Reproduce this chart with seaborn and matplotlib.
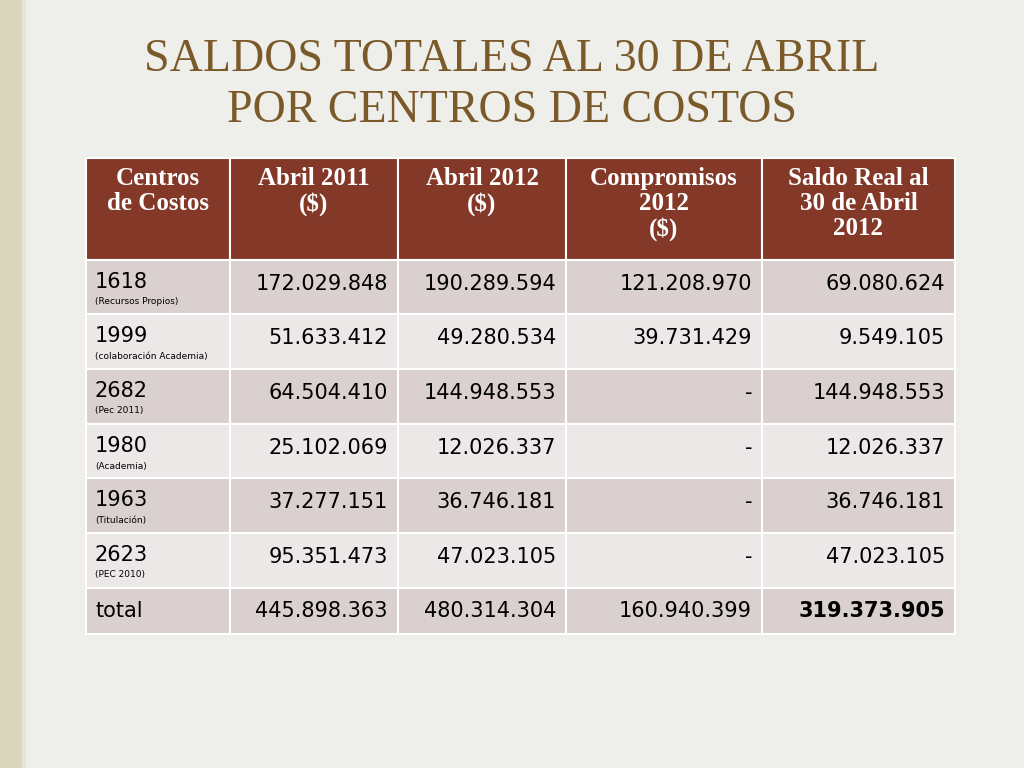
import matplotlib
matplotlib.use("Agg")
import matplotlib.pyplot as plt
from matplotlib.patches import Rectangle
import seaborn as sns

sns.set_theme(style="white")

# --- data ---
headers = ["Centros\nde Costos", "Abril 2011\n($)", "Abril 2012\n($)",
           "Compromisos\n2012\n($)", "Saldo Real al\n30 de Abril\n2012"]
codes = ["1618", "1999", "2682", "1980", "1963", "2623", "total"]
descriptions = ["(Recursos Propios)", "(colaboración Academia)", "(Pec 2011)",
                "(Academia)", "(Titulación)", "(PEC 2010)", ""]
abril_2011 = ["172.029.848", "51.633.412", "64.504.410", "25.102.069",
              "37.277.151", "95.351.473", "445.898.363"]
abril_2012 = ["190.289.594", "49.280.534", "144.948.553", "12.026.337",
              "36.746.181", "47.023.105", "480.314.304"]
compromisos = ["121.208.970", "39.731.429", "-", "-", "-", "-", "160.940.399"]
saldo_real = ["69.080.624", "9.549.105", "144.948.553", "12.026.337",
              "36.746.181", "47.023.105", "319.373.905"]

# --- layout (pixels) ---
col_edges = [86, 230, 398, 566, 762, 955]
header_top, header_bottom = 158, 260
row_edges = [260, 314, 369, 424, 478, 533, 588, 634]
header_color = "#843827"
row_colors = ["#d9d0cf", "#ece8e7"]

fig = plt.figure(figsize=(10.24, 7.68), dpi=100)
fig.patch.set_facecolor("#eeeeeb")
ax = fig.add_axes([0, 0, 1, 1])
ax.set_xlim(0, 1024)
ax.set_ylim(768, 0)
ax.axis("off")

# left decorative band
ax.add_patch(Rectangle((0, 0), 22, 768, facecolor="#d9d6bd", edgecolor="none"))
ax.add_patch(Rectangle((22, 0), 4, 768, facecolor="#e6e4d4", edgecolor="none"))

ax.text(512, 60, "SALDOS TOTALES AL 30 DE ABRIL", ha="center", va="center",
        fontsize=33, family="Liberation Serif", color="#7b5a29")
ax.text(512, 111, "POR CENTROS DE COSTOS", ha="center", va="center",
        fontsize=33, family="Liberation Serif", color="#7b5a29")

# header
for j, h in enumerate(headers):
    x0, x1 = col_edges[j], col_edges[j + 1]
    ax.add_patch(Rectangle((x0, header_top), x1 - x0, header_bottom - header_top,
                           facecolor=header_color, edgecolor="white", lw=1.5))
    ax.text((x0 + x1) / 2, header_top + 9, h, ha="center", va="top",
            fontsize=18, family="Liberation Serif", weight="bold",
            color="white", linespacing=1.12)

# body
columns = [abril_2011, abril_2012, compromisos, saldo_real]
for i, code in enumerate(codes):
    y0, y1 = row_edges[i], row_edges[i + 1]
    for j in range(5):
        x0, x1 = col_edges[j], col_edges[j + 1]
        ax.add_patch(Rectangle((x0, y0), x1 - x0, y1 - y0,
                               facecolor=row_colors[i % 2], edgecolor="white", lw=1.5))
    if descriptions[i]:
        ax.text(95, y0 + 22, code, ha="left", va="center", fontsize=15, color="black")
        ax.text(95, y0 + 42, descriptions[i], ha="left", va="center", fontsize=6.5,
                color="black")
    else:
        ax.text(95, (y0 + y1) / 2, code, ha="left", va="center", fontsize=15,
                color="black")
    for j, col in enumerate(columns):
        bold = (i == len(codes) - 1 and j == 3)
        ax.text(col_edges[j + 2] - 10, y0 + 24 if descriptions[i] else (y0 + y1) / 2,
                col[i], ha="right", va="center", fontsize=15, color="black",
                weight="bold" if bold else "normal")

fig.savefig("out.png", dpi=100, facecolor=fig.get_facecolor())
